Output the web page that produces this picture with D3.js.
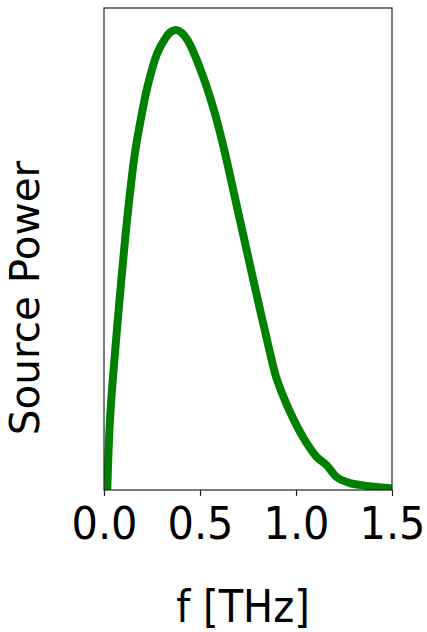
<!DOCTYPE html>
<html>
<head>
<meta charset="utf-8">
<script src="https://cdn.jsdelivr.net/npm/d3@7"></script>
<style>
  html, body { margin: 0; padding: 0; background: #fff; }
  svg { display: block; }
  text { font-family: "DejaVu Sans", sans-serif; fill: #000; }
</style>
</head>
<body>
<svg id="chart" width="427" height="632"></svg>
<script>
// Source power spectrum, normalised to its peak
const freqTHz = [0.017, 0.031, 0.057, 0.087, 0.120, 0.161, 0.191, 0.226, 0.278, 0.318, 0.345,
                 0.375, 0.405, 0.435, 0.465, 0.535, 0.587, 0.630, 0.708, 0.786, 0.865, 0.895,
                 0.930, 0.969, 1.037, 1.108, 1.160, 1.212, 1.281, 1.368, 1.420, 1.490, 1.500];
const power   = [0.000, 0.152, 0.298, 0.442, 0.588, 0.734, 0.806, 0.878, 0.952, 0.983, 0.997,
                 1.002, 0.996, 0.980, 0.955, 0.878, 0.806, 0.734, 0.588, 0.442, 0.298, 0.248,
                 0.208, 0.170, 0.115, 0.072, 0.054, 0.028, 0.015, 0.009, 0.0065, 0.004, 0.004];
const xTicks = [0.0, 0.5, 1.0, 1.5];
const xLabel = "f [THz]";
const yLabel = "Source Power";

const svg = d3.select("#chart");
const margin = { left: 104, right: 35, top: 8, bottom: 142 };
const W = 427, H = 632;
const plotW = W - margin.left - margin.right;
const plotH = H - margin.top - margin.bottom;

const x = d3.scaleLinear().domain([0, 1.5]).range([0, plotW]);
const y = d3.scaleLinear().domain([0, 1.05]).range([plotH, 0]);

const g = svg.append("g").attr("transform", `translate(${margin.left},${margin.top})`);

g.append("clipPath").attr("id", "plot-clip")
  .append("rect").attr("width", plotW).attr("height", plotH);

// spectrum curve
const line = d3.line()
  .x((d, i) => x(freqTHz[i]))
  .y(d => y(d))
  .curve(d3.curveCatmullRom.alpha(0.5));

g.append("path")
  .datum(power)
  .attr("clip-path", "url(#plot-clip)")
  .attr("fill", "none")
  .attr("stroke", "#008000")
  .attr("stroke-width", 8)
  .attr("stroke-linejoin", "round")
  .attr("d", line);

// frame
g.append("rect")
  .attr("width", plotW).attr("height", plotH)
  .attr("fill", "none").attr("stroke", "#222").attr("stroke-width", 1.2);

// x axis
const xAxis = g.append("g")
  .attr("transform", `translate(0,${plotH})`)
  .call(d3.axisBottom(x).tickValues(xTicks).tickFormat(d3.format(".1f")).tickSize(6));
xAxis.select(".domain").remove();
xAxis.selectAll(".tick line").attr("stroke", "#222").attr("stroke-width", 1.2);
xAxis.selectAll(".tick text")
  .attr("y", 0).attr("dy", 0)
  .attr("transform", "translate(0,49) scale(1,1.08)")
  .style("font-family", "'DejaVu Sans', sans-serif")
  .style("font-size", "41.5px")
  .attr("fill", "#000");

// axis titles
svg.append("text")
  .attr("transform", "translate(243,622) scale(1,1.1)")
  .attr("text-anchor", "middle")
  .style("font-size", "40px")
  .text(xLabel);

svg.append("text")
  .attr("transform", "translate(39,298) rotate(-90)")
  .attr("text-anchor", "middle")
  .style("font-size", "40.5px")
  .text(yLabel);
</script>
</body>
</html>
